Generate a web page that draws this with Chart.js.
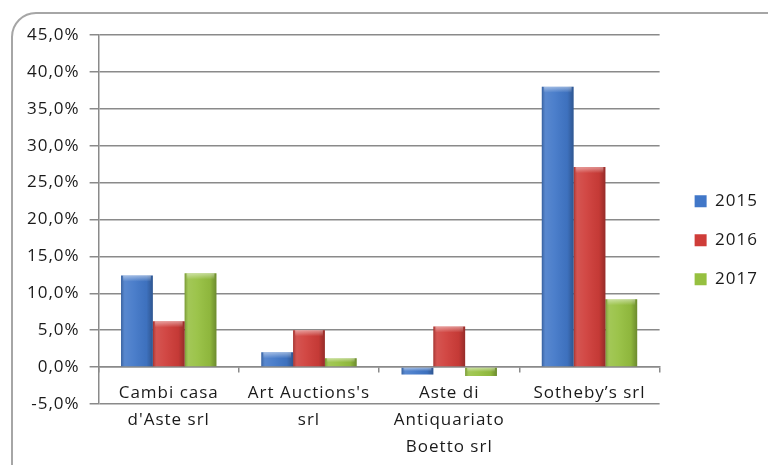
<!DOCTYPE html>
<html>
<head>
<meta charset="utf-8">
<script src="https://cdn.jsdelivr.net/npm/chart.js@4"></script>
<style>
  html, body { margin: 0; padding: 0; background: #fff; }
  #wrap { width: 768px; height: 465px; position: relative; }
</style>
</head>
<body>
<div id="wrap"><canvas id="growthChart"></canvas></div>
<script>
const categories = [
  ["Cambi casa", "d'Aste srl"],
  ["Art Auctions's", "srl"],
  ["Aste di", "Antiquariato", "Boetto srl"],
  ["Sotheby\u2019s srl"],
];
const years = ["2015", "2016", "2017"];
const values2015 = [12.4, 2.0, -1.0, 38.0];
const values2016 = [6.2, 5.0, 5.5, 27.1];
const values2017 = [12.7, 1.2, -1.2, 9.2];
const yTicks = { min: -5, max: 45, step: 5 };

const colors = ["#4177c8", "#cf3d39", "#96c040"];
const gridGray = "#8a8a8a";
const textColor = "#1a1a1a";
const font = { family: "'Open Sans'", size: 17 };

// the original text is set wider than Open Sans, so space it out a bit
const spacingPlugin = {
  id: "spacing",
  beforeUpdate(chart) { chart.ctx.letterSpacing = "1px"; },
  beforeDraw(chart) { chart.ctx.letterSpacing = "1px"; },
};

// rounded frame around the whole chart, like the Excel chart border
const framePlugin = {
  id: "frame",
  beforeDraw(chart) {
    const c = chart.ctx;
    c.save();
    c.strokeStyle = "#a6a6a6";
    c.lineWidth = 2;
    c.beginPath();
    c.roundRect(12, 13, 790, 480, 24);
    c.stroke();
    c.restore();
  },
};

// fake the glossy cylinder look on top of each bar
const shinePlugin = {
  id: "shine",
  afterDatasetsDraw(chart) {
    const c = chart.ctx;
    chart.data.datasets.forEach((ds, i) => {
      const meta = chart.getDatasetMeta(i);
      meta.data.forEach((bar) => {
        const left = bar.x - bar.width / 2;
        const top = Math.min(bar.y, bar.base);
        const h = Math.abs(bar.base - bar.y);
        if (h < 1) return;
        c.save();
        const g = c.createLinearGradient(left, 0, left + bar.width, 0);
        g.addColorStop(0, "rgba(0,0,0,0.22)");
        g.addColorStop(0.12, "rgba(255,255,255,0.12)");
        g.addColorStop(0.4, "rgba(255,255,255,0.06)");
        g.addColorStop(0.8, "rgba(0,0,0,0.05)");
        g.addColorStop(1, "rgba(0,0,0,0.28)");
        c.fillStyle = g;
        c.fillRect(left, top, bar.width, h);
        const bevel = Math.min(6, h / 2);
        const v = c.createLinearGradient(0, top, 0, top + bevel);
        v.addColorStop(0, "rgba(255,255,255,0.45)");
        v.addColorStop(1, "rgba(255,255,255,0)");
        c.fillStyle = v;
        c.fillRect(left + 2, top, bar.width - 4, bevel);
        c.restore();
      });
    });
  },
};

const ctx = document.getElementById("growthChart").getContext("2d");
new Chart(ctx, {
  type: "bar",
  data: {
    labels: categories,
    datasets: [
      { label: years[0], data: values2015, backgroundColor: colors[0] },
      { label: years[1], data: values2016, backgroundColor: colors[1] },
      { label: years[2], data: values2017, backgroundColor: colors[2] },
    ],
  },
  options: {
    responsive: true,
    maintainAspectRatio: false,
    animation: false,
    datasets: {
      bar: { categoryPercentage: 0.68, barPercentage: 1.0, borderWidth: 0 },
    },
    layout: { padding: { left: 17, top: 35, right: 0, bottom: 61 } },
    scales: {
      y: {
        min: yTicks.min,
        max: yTicks.max,
        ticks: {
          stepSize: yTicks.step,
          color: textColor,
          padding: 10,
          font: font,
          callback: (v) => v.toFixed(1).replace(".", ",") + "%",
        },
        grid: { color: gridGray, lineWidth: 1.5, tickLength: 9 },
        border: { color: gridGray, width: 1.5 },
      },
      // empty spacer between the plot and the legend
      gap: {
        axis: "y",
        position: "right",
        display: true,
        ticks: { display: false },
        grid: { display: false },
        border: { display: false },
        afterFit: (s) => { s.width = 13; },
      },
      x: {
        position: { y: 0 },
        ticks: {
          color: textColor,
          autoSkip: false,
          maxRotation: 0,
          padding: 8,
          font: { family: font.family, size: font.size, lineHeight: "27px" },
        },
        grid: { drawOnChartArea: false, color: gridGray, lineWidth: 1.5, tickLength: 5 },
        border: { color: gridGray, width: 1.5 },
      },
    },
    plugins: {
      legend: {
        position: "right",
        title: { display: true, text: "", font: { size: 12 }, padding: { top: 27, bottom: 0 } },
        labels: {
          boxWidth: 12,
          boxHeight: 12,
          padding: 22,
          color: textColor,
          font: font,
        },
      },
      tooltip: { enabled: false },
    },
  },
  plugins: [spacingPlugin, framePlugin, shinePlugin],
});
</script>
</body>
</html>
